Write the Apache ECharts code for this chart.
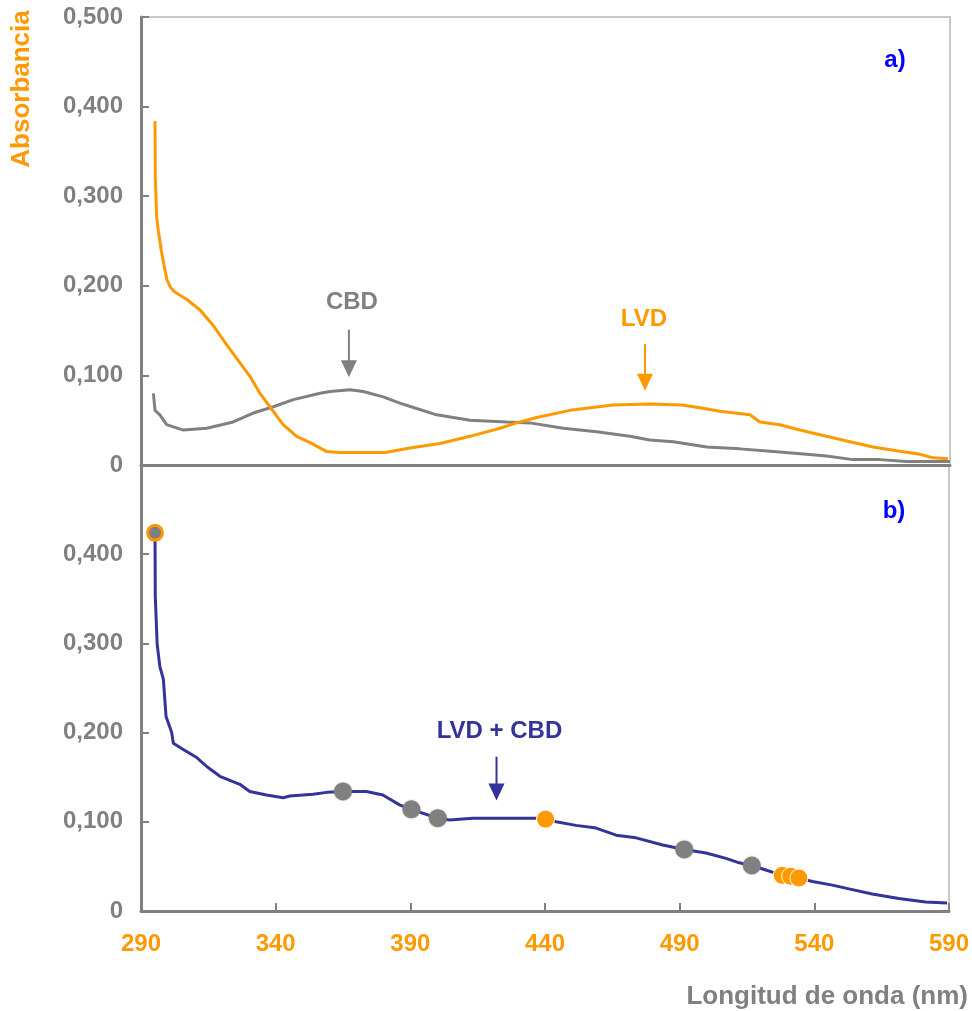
<!DOCTYPE html>
<html>
<head>
<meta charset="utf-8">
<script src="https://cdn.jsdelivr.net/npm/echarts@6/dist/echarts.min.js"></script>
<style>
  html, body { margin: 0; padding: 0; background: #ffffff; }
  #chart { width: 972px; height: 1011px; }
</style>
</head>
<body>
<div id="chart"></div>
<script>
// Absorption spectra: (a) LVD and CBD separately, (b) LVD + CBD mixture
const xTicks = [290, 340, 390, 440, 490, 540, 590];

const lvdNm  = [295.2, 295.3, 295.8, 296.4, 297.5, 298.6, 299.6, 301.0, 302.5, 306.9, 311.9, 316.7, 321.8, 326.7, 330.4, 334.1, 337.8, 342.7, 347.7, 352.7, 358.9, 363.8, 380.5, 389.7, 400.9, 412.0, 423.1, 429.3, 436.7, 449.1, 465.0, 478.7, 490.5, 497.3, 504.7, 515.8, 519.5, 526.9, 534.3, 544.2, 552.9, 561.5, 570.2, 578.8, 583.7, 589.2];
const lvdAbs = [0.384, 0.322, 0.277, 0.262, 0.240, 0.222, 0.207, 0.198, 0.193, 0.185, 0.173, 0.156, 0.134, 0.114, 0.099, 0.080, 0.065, 0.045, 0.032, 0.025, 0.015, 0.014, 0.014, 0.019, 0.024, 0.032, 0.041, 0.047, 0.053, 0.061, 0.067, 0.068, 0.067, 0.064, 0.060, 0.056, 0.048, 0.045, 0.039, 0.032, 0.026, 0.020, 0.016, 0.012, 0.008, 0.007];

const cbdNm  = [294.6, 295.2, 297.0, 299.5, 305.7, 314.4, 324.2, 331.6, 339.1, 346.5, 356.4, 360.1, 367.5, 372.4, 379.8, 386.0, 392.2, 399.6, 412.0, 425.6, 434.2, 446.6, 459.0, 471.3, 478.7, 487.4, 499.8, 512.1, 524.5, 536.8, 544.2, 554.1, 564.0, 573.9, 590.0];
const cbdAbs = [0.080, 0.061, 0.056, 0.045, 0.039, 0.041, 0.048, 0.058, 0.065, 0.073, 0.080, 0.082, 0.084, 0.082, 0.076, 0.069, 0.063, 0.056, 0.050, 0.048, 0.047, 0.041, 0.037, 0.032, 0.028, 0.026, 0.020, 0.018, 0.015, 0.012, 0.010, 0.006, 0.006, 0.004, 0.004];

const mixNm  = [295.2, 295.3, 296.0, 297.0, 298.3, 299.3, 301.4, 302.0, 305.7, 310.7, 314.4, 319.3, 326.7, 330.4, 336.6, 342.8, 345.2, 353.9, 358.9, 365.0, 373.7, 379.8, 386.0, 390.4, 400.2, 404.6, 413.2, 436.7, 440.2, 444.1, 451.5, 459.0, 466.4, 473.8, 483.7, 491.7, 499.8, 507.2, 512.1, 516.8, 522.0, 528.1, 534.3, 539.3, 546.7, 554.1, 561.5, 571.4, 581.3, 589.3];
const mixAbs = [0.424, 0.353, 0.299, 0.274, 0.260, 0.218, 0.200, 0.188, 0.181, 0.172, 0.162, 0.151, 0.142, 0.134, 0.130, 0.127, 0.129, 0.131, 0.133, 0.134, 0.134, 0.130, 0.119, 0.114, 0.104, 0.102, 0.104, 0.104, 0.103, 0.100, 0.096, 0.093, 0.085, 0.082, 0.074, 0.069, 0.065, 0.059, 0.054, 0.051, 0.046, 0.040, 0.037, 0.033, 0.029, 0.024, 0.019, 0.014, 0.010, 0.009];

// highlighted points on the mixture curve
const cbdPointNm  = [365.0, 390.4, 400.2, 491.7, 516.8];
const cbdPointAbs = [0.134, 0.114, 0.104, 0.069, 0.051];
const lvdPointNm  = [440.2, 528.1, 531.2, 534.3];
const lvdPointAbs = [0.103, 0.040, 0.039, 0.037];
const startPointNm  = [295.2];
const startPointAbs = [0.424];

const ORANGE = '#ff9900';
const GRAY = '#808080';
const BLUE = '#333399';
const FONT = '"Liberation Sans", Arial, sans-serif';

const zip = (xs, ys) => xs.map((x, i) => [x, ys[i]]);
const fmtAbs = v => (v === 0 ? '0' : v.toFixed(3).replace('.', ','));

const chart = echarts.init(document.getElementById('chart'), null, { renderer: 'canvas' });

const yAxisBase = {
  type: 'value', min: 0, max: 0.5, interval: 0.1,
  axisLine: { show: true, lineStyle: { color: GRAY, width: 3 } },
  axisTick: { show: true, inside: true, length: 8, lineStyle: { color: GRAY, width: 2 } },
  axisLabel: { color: GRAY, fontWeight: 'bold', fontSize: 24, fontFamily: FONT, margin: 18, formatter: fmtAbs },
  splitLine: { show: false }
};

const option = {
  animation: false,
  backgroundColor: '#ffffff',
  grid: [
    { left: 141, right: 22, top: 17, height: 448, show: true, borderColor: '#c8c8c8', borderWidth: 2, containLabel: false },
    { left: 141, right: 22, top: 465, height: 446, show: true, borderColor: '#c8c8c8', borderWidth: 2, containLabel: false }
  ],
  xAxis: [
    { gridIndex: 0, type: 'value', min: 290, max: 590, interval: 50,
      axisLine: { show: true, onZero: false, lineStyle: { color: GRAY, width: 3 } },
      axisTick: { show: false }, axisLabel: { show: false }, splitLine: { show: false } },
    { gridIndex: 1, type: 'value', min: 290, max: 590, interval: 50,
      axisLine: { show: true, onZero: false, lineStyle: { color: GRAY, width: 3 } },
      axisTick: { show: true, inside: true, length: 8, lineStyle: { color: GRAY, width: 2 } },
      axisLabel: { color: ORANGE, fontWeight: 'bold', fontSize: 24, fontFamily: FONT, margin: 21,
        customValues: xTicks, formatter: v => String(v) },
      splitLine: { show: false } }
  ],
  yAxis: [
    Object.assign({ gridIndex: 0 }, yAxisBase),
    Object.assign({ gridIndex: 1 }, yAxisBase, {
      axisLabel: Object.assign({}, yAxisBase.axisLabel, { showMaxLabel: false })
    })
  ],
  series: [
    { name: 'CBD', type: 'line', xAxisIndex: 0, yAxisIndex: 0, data: zip(cbdNm, cbdAbs),
      showSymbol: false, lineStyle: { color: GRAY, width: 3 }, z: 3 },
    { name: 'LVD', type: 'line', xAxisIndex: 0, yAxisIndex: 0, data: zip(lvdNm, lvdAbs),
      showSymbol: false, lineStyle: { color: ORANGE, width: 3 }, z: 4 },
    { name: 'LVD + CBD', type: 'line', xAxisIndex: 1, yAxisIndex: 1, data: zip(mixNm, mixAbs),
      showSymbol: false, lineStyle: { color: BLUE, width: 3 }, z: 3 },
    { type: 'scatter', xAxisIndex: 1, yAxisIndex: 1, data: zip(cbdPointNm, cbdPointAbs),
      symbolSize: 18, itemStyle: { color: GRAY, opacity: 1, shadowBlur: 2, shadowColor: 'rgba(128,128,128,0.6)' }, z: 5 },
    { type: 'scatter', xAxisIndex: 1, yAxisIndex: 1, data: zip(lvdPointNm, lvdPointAbs),
      symbolSize: 18, itemStyle: { color: ORANGE, opacity: 1, borderColor: '#ffffff', borderWidth: 1 }, z: 5 },
    { type: 'scatter', xAxisIndex: 1, yAxisIndex: 1, data: zip(startPointNm, startPointAbs),
      symbolSize: 15, itemStyle: { color: GRAY, opacity: 1, borderColor: ORANGE, borderWidth: 3 }, z: 5 }
  ]
};

chart.setOption(option);

// annotations placed in data coordinates of each panel
function px(grid, nm, v) { return chart.convertToPixel({ gridIndex: grid }, [nm, v]); }

function label(grid, nm, v, text, color, size) {
  const p = px(grid, nm, v);
  return { type: 'text', x: p[0], y: p[1], z: 10,
    style: { text, fill: color, font: `bold ${size}px ${FONT}`, textAlign: 'center', textVerticalAlign: 'middle' } };
}

function arrow(grid, nm, vTop, vTip, color) {
  const a = px(grid, nm, vTop), b = px(grid, nm, vTip);
  const headH = 17, headW = 8;
  return [
    { type: 'line', z: 10, shape: { x1: a[0], y1: a[1], x2: b[0], y2: b[1] - headH + 2 },
      style: { stroke: color, lineWidth: 2 } },
    { type: 'polygon', z: 10,
      shape: { points: [[b[0] - headW, b[1] - headH], [b[0] + headW, b[1] - headH], [b[0], b[1]]] },
      style: { fill: color } }
  ];
}

const graphics = [
  label(0, 368.2, 0.182, 'CBD', GRAY, 24),
  ...arrow(0, 367.1, 0.151, 0.098, GRAY),
  label(0, 476.5, 0.162, 'LVD', ORANGE, 24),
  ...arrow(0, 476.9, 0.135, 0.083, ORANGE),
  label(1, 423.1, 0.201, 'LVD + CBD', BLUE, 24),
  ...arrow(1, 422.0, 0.173, 0.124, BLUE),
  label(0, 569.6, 0.452, 'a)', '#0000ff', 24),
  label(1, 569.6, 0.448, 'b)', '#0000ff', 24),
  { type: 'text', x: 22, y: 89, rotation: Math.PI / 2, z: 10,
    style: { text: 'Absorbancia', fill: ORANGE, font: `bold 26px ${FONT}`, textAlign: 'center', textVerticalAlign: 'middle' } },
  { type: 'text', x: 968, y: 997, z: 10,
    style: { text: 'Longitud de onda (nm)', fill: GRAY, font: `bold 26px ${FONT}`, textAlign: 'right', textVerticalAlign: 'middle' } }
];

chart.setOption({ graphic: graphics });
</script>
</body>
</html>
